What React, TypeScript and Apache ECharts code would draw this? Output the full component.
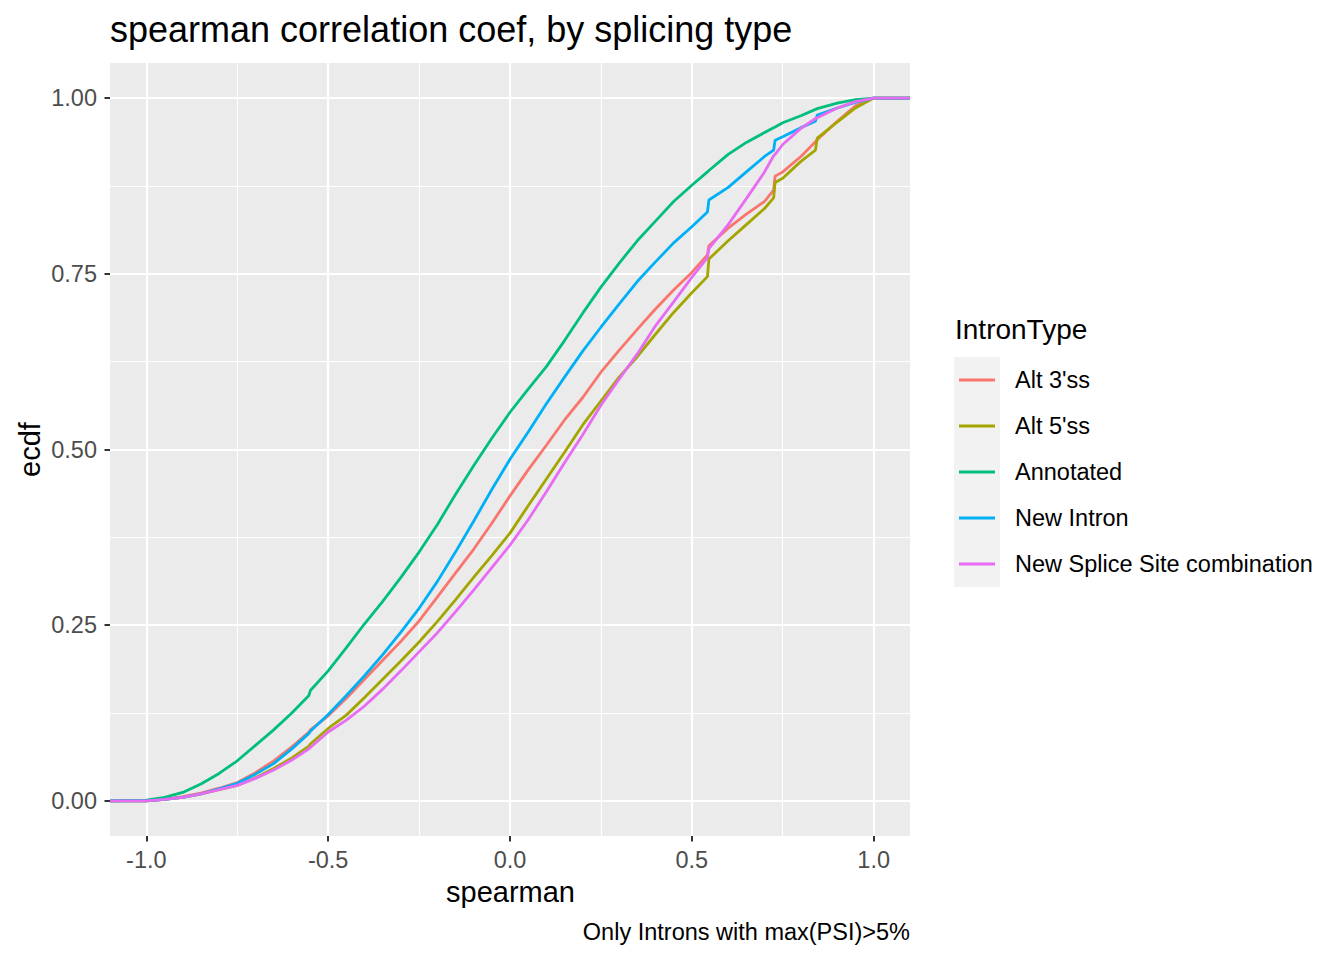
import React, { useEffect, useRef } from "react";
import * as echarts from "echarts";

// x positions (spearman) at which the ECDF curves were read
const spearmanGrid = [
  -1.1, -1.0, -0.95, -0.9, -0.85, -0.8, -0.75, -0.7, -0.65, -0.6, -0.553, -0.549,
  -0.5, -0.45, -0.4, -0.35, -0.3, -0.25, -0.2, -0.15, -0.1, -0.05, 0, 0.05,
  0.1, 0.15, 0.2, 0.25, 0.3, 0.35, 0.4, 0.45, 0.5, 0.543, 0.547, 0.6,
  0.65, 0.7, 0.725, 0.729, 0.75, 0.8, 0.84, 0.845, 0.9, 0.95, 1.0, 1.1,
];

const alt3ss = [
  0, 0.0, 0.002, 0.006, 0.011, 0.018, 0.026, 0.04, 0.057, 0.077, 0.098, 0.101,
  0.121, 0.146, 0.173, 0.2, 0.227, 0.256, 0.29, 0.324, 0.358, 0.395, 0.434, 0.471,
  0.506, 0.542, 0.574, 0.61, 0.641, 0.671, 0.7, 0.727, 0.752, 0.777, 0.79, 0.815,
  0.835, 0.853, 0.869, 0.889, 0.895, 0.917, 0.938, 0.941, 0.967, 0.989, 1.0, 1.0,
];

const alt5ss = [
  0, 0.0, 0.002, 0.005, 0.01, 0.016, 0.022, 0.033, 0.046, 0.061, 0.078, 0.081,
  0.103, 0.122, 0.147, 0.173, 0.199, 0.226, 0.255, 0.286, 0.318, 0.349, 0.381, 0.42,
  0.458, 0.496, 0.535, 0.569, 0.603, 0.632, 0.664, 0.695, 0.723, 0.746, 0.771, 0.797,
  0.82, 0.843, 0.858, 0.88, 0.886, 0.91, 0.926, 0.943, 0.966, 0.986, 1.0, 1.0,
];

const annotated = [
  0, 0.001, 0.005, 0.012, 0.024, 0.039, 0.057, 0.079, 0.101, 0.125, 0.15, 0.157,
  0.185, 0.218, 0.252, 0.284, 0.318, 0.354, 0.393, 0.436, 0.477, 0.516, 0.553, 0.586,
  0.618, 0.655, 0.694, 0.731, 0.765, 0.797, 0.825, 0.853, 0.876, 0.895, 0.897, 0.92,
  0.937, 0.951, 0.958, 0.959, 0.965, 0.975, 0.984, 0.985, 0.993, 0.998, 1.0, 1.0,
];

const newIntron = [
  0, 0.0, 0.002, 0.005, 0.01, 0.017, 0.025, 0.038, 0.053, 0.074, 0.096, 0.099,
  0.123, 0.15, 0.178, 0.208, 0.24, 0.274, 0.312, 0.354, 0.398, 0.443, 0.486, 0.525,
  0.565, 0.603, 0.64, 0.674, 0.707, 0.739, 0.767, 0.794, 0.817, 0.838, 0.855, 0.873,
  0.895, 0.917, 0.926, 0.94, 0.945, 0.958, 0.967, 0.976, 0.986, 0.994, 1.0, 1.0,
];

const newSpliceSite = [
  0, 0.0, 0.002, 0.005, 0.01, 0.016, 0.022, 0.032, 0.044, 0.058, 0.074, 0.076,
  0.098, 0.115, 0.135, 0.159, 0.185, 0.212, 0.239, 0.269, 0.3, 0.332, 0.364, 0.4,
  0.44, 0.481, 0.521, 0.563, 0.6, 0.636, 0.676, 0.71, 0.745, 0.773, 0.786, 0.82,
  0.857, 0.895, 0.918, 0.92, 0.934, 0.957, 0.971, 0.972, 0.986, 0.995, 1.0, 1.0,
];

const seriesNames = ["Alt 3'ss", "Alt 5'ss", "Annotated", "New Intron", "New Splice Site combination"];
const seriesValues = [alt3ss, alt5ss, annotated, newIntron, newSpliceSite];
const seriesColors = ["#F8766D", "#A3A500", "#00BF7D", "#00B0F6", "#E76BF3"];

const xMajorTicks = [-1, -0.5, 0, 0.5, 1];
const xMinorTicks = [-0.75, -0.25, 0.25, 0.75];
const yMajorTicks = [0, 0.25, 0.5, 0.75, 1];
const yMinorTicks = [0.125, 0.375, 0.625, 0.875];

const chartTitle = "spearman correlation coef, by splicing type";
const xTitle = "spearman";
const yTitle = "ecdf";
const legendTitle = "IntronType";
const caption = "Only Introns with max(PSI)>5%";

const FONT = "'Liberation Sans', Arial, Helvetica, sans-serif";
// legend key: a 3px horizontal bar centred in a 36x46 box (tiny corner dots fix the bounds)
const LEGEND_KEY =
  "path://M0,0h0.001v0.001h-0.001zM0,21.5h36v3h-36zM35.999,45.999h0.001v0.001h-0.001z";

export default function App() {
  const ref = useRef<HTMLDivElement>(null);

  useEffect(() => {
    if (!ref.current) return;
    const chart = echarts.init(ref.current, undefined, { renderer: "svg" });

    const series = seriesNames.map((name, i) => ({
      name,
      type: "line",
      data: spearmanGrid.map((x, j) => [x, seriesValues[i][j]]),
      symbol: "none",
      showSymbol: false,
      smooth: false,
      lineStyle: { color: seriesColors[i], width: 2.8 },
      itemStyle: { color: seriesColors[i] },
      z: 3 + i,
    }));

    const majorSplit = { show: true, lineStyle: { color: "#FFFFFF", width: 2.2 } };
    const minorSplit = { show: true, lineStyle: { color: "#FFFFFF", width: 1.1 } };

    chart.setOption({
      animation: false,
      textStyle: { fontFamily: FONT },
      grid: {
        left: 110,
        top: 63,
        width: 800,
        height: 773,
        show: true,
        backgroundColor: "#EBEBEB",
        borderWidth: 0,
      },
      xAxis: [
        {
          type: "value",
          min: -1.1,
          max: 1.1,
          axisLine: { show: false, onZero: false },
          axisTick: {
            show: true,
            length: 5.5,
            customValues: xMajorTicks,
            lineStyle: { color: "#333333", width: 2 },
          },
          axisLabel: {
            customValues: xMajorTicks,
            formatter: (v: number) => v.toFixed(1),
            color: "#4D4D4D",
            fontSize: 23.5,
            fontFamily: FONT,
            margin: 12,
          },
          splitLine: majorSplit,
        },
        {
          type: "value",
          min: -1.1,
          max: 1.1,
          position: "bottom",
          axisLine: { show: false, onZero: false },
          axisTick: { show: false, customValues: xMinorTicks },
          axisLabel: { show: false, customValues: xMinorTicks },
          splitLine: minorSplit,
        },
      ],
      yAxis: [
        {
          type: "value",
          min: -0.05,
          max: 1.05,
          axisLine: { show: false, onZero: false },
          axisTick: {
            show: true,
            length: 5.5,
            customValues: yMajorTicks,
            lineStyle: { color: "#333333", width: 2 },
          },
          axisLabel: {
            customValues: yMajorTicks,
            formatter: (v: number) => v.toFixed(2),
            color: "#4D4D4D",
            fontSize: 23.5,
            fontFamily: FONT,
            margin: 13,
          },
          splitLine: majorSplit,
        },
        {
          type: "value",
          min: -0.05,
          max: 1.05,
          position: "left",
          axisLine: { show: false, onZero: false },
          axisTick: { show: false, customValues: yMinorTicks },
          axisLabel: { show: false, customValues: yMinorTicks },
          splitLine: minorSplit,
        },
      ],
      legend: {
        orient: "vertical",
        left: 959,
        top: 357,
        padding: 0,
        itemWidth: 36,
        itemHeight: 46,
        itemGap: 0,
        selectedMode: false,
        icon: LEGEND_KEY,
        data: seriesNames,
        textStyle: {
          fontSize: 23.5,
          color: "#000000",
          fontFamily: FONT,
          padding: [0, 0, 0, 15],
        },
      },
      graphic: [
        {
          type: "rect",
          z: 0,
          shape: { x: 954, y: 357, width: 46, height: 230 },
          style: { fill: "#F2F2F2" },
        },
        {
          type: "text",
          x: 110,
          y: 29,
          style: { text: chartTitle, fontSize: 36, fontFamily: FONT, fill: "#000000", align: "left", verticalAlign: "middle" },
        },
        {
          type: "text",
          x: 510.5,
          y: 892,
          style: { text: xTitle, fontSize: 29, fontFamily: FONT, fill: "#000000", align: "center", verticalAlign: "middle" },
        },
        {
          type: "text",
          x: 30,
          y: 449.5,
          rotation: Math.PI / 2,
          style: { text: yTitle, fontSize: 29, fontFamily: FONT, fill: "#000000", align: "center", verticalAlign: "middle" },
        },
        {
          type: "text",
          x: 955,
          y: 329,
          style: { text: legendTitle, fontSize: 28, fontFamily: FONT, fill: "#000000", align: "left", verticalAlign: "middle" },
        },
        {
          type: "text",
          x: 910,
          y: 932,
          style: { text: caption, fontSize: 23.5, fontFamily: FONT, fill: "#000000", align: "right", verticalAlign: "middle" },
        },
      ],
      series,
    });

    return () => {
      chart.dispose();
    };
  }, []);

  return (
    <div
      ref={ref}
      style={{ position: "fixed", left: 0, top: 0, width: 1344, height: 960, background: "#FFFFFF" }}
    />
  );
}
